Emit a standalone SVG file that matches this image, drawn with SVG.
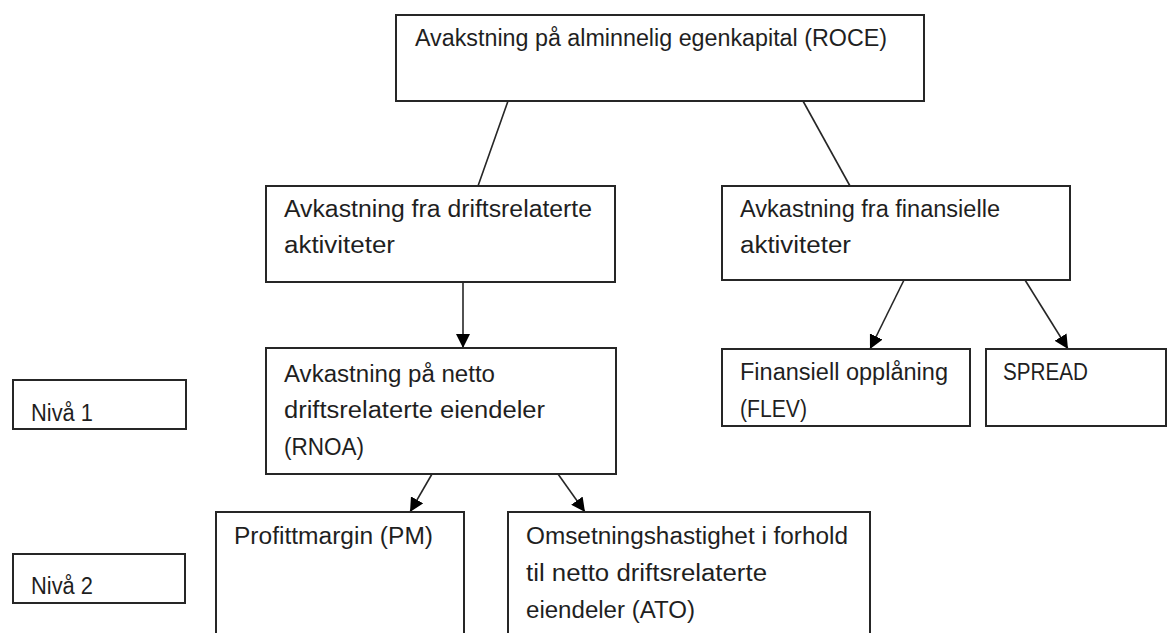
<svg xmlns="http://www.w3.org/2000/svg" width="1168" height="633" viewBox="0 0 1168 633">
<style>
.box{fill:#fff;stroke:#262626;stroke-width:2}
.t{font-family:"Liberation Sans",Arial,sans-serif;font-size:23.5px;fill:#1f1f1f}
.c{stroke:#262626;stroke-width:1.6;fill:none}
</style>
<defs>
<marker id="ahb" viewBox="0 0 12 12" refX="12" refY="6" markerWidth="14" markerHeight="14" markerUnits="userSpaceOnUse" orient="auto">
<path d="M0,0 L12,6 L0,12 z" fill="#000"/>
</marker>
</defs>
<rect width="1168" height="633" fill="#fff"/>
<g id="connectors">
<line class="c" x1="508" y1="101" x2="478" y2="186"/>
<line class="c" x1="803" y1="101" x2="850" y2="186"/>
<line class="c" x1="463" y1="282" x2="463" y2="348" marker-end="url(#ahb)"/>
<line class="c" x1="904" y1="280" x2="870" y2="349" marker-end="url(#ahb)"/>
<line class="c" x1="1025" y1="280" x2="1068" y2="349" marker-end="url(#ahb)"/>
<line class="c" x1="432" y1="474" x2="410" y2="512" marker-end="url(#ahb)"/>
<line class="c" x1="558" y1="474" x2="585" y2="512" marker-end="url(#ahb)"/>
</g>
<g id="roce">
<rect class="box" x="396" y="15" width="528" height="86"/>
<text class="t" x="415" y="46" textLength="472" lengthAdjust="spacingAndGlyphs">Avakstning på alminnelig egenkapital (ROCE)</text>
</g>
<g id="drift">
<rect class="box" x="266" y="186" width="349" height="96"/>
<text class="t" x="284" y="217" textLength="308" lengthAdjust="spacingAndGlyphs">Avkastning fra driftsrelaterte</text>
<text class="t" x="284" y="253" textLength="111" lengthAdjust="spacingAndGlyphs">aktiviteter</text>
</g>
<g id="finans">
<rect class="box" x="722" y="186" width="348" height="94"/>
<text class="t" x="740" y="217" textLength="260" lengthAdjust="spacingAndGlyphs">Avkastning fra finansielle</text>
<text class="t" x="740" y="253" textLength="111" lengthAdjust="spacingAndGlyphs">aktiviteter</text>
</g>
<g id="rnoa">
<rect class="box" x="266" y="348" width="350" height="126"/>
<text class="t" x="284" y="382" textLength="211" lengthAdjust="spacingAndGlyphs">Avkastning på netto</text>
<text class="t" x="284" y="418" textLength="261" lengthAdjust="spacingAndGlyphs">driftsrelaterte eiendeler</text>
<text class="t" x="284" y="455" textLength="80" lengthAdjust="spacingAndGlyphs">(RNOA)</text>
</g>
<g id="niva1">
<rect class="box" x="13" y="380" width="173" height="49"/>
<text class="t" x="31" y="421" textLength="62" lengthAdjust="spacingAndGlyphs">Nivå 1</text>
</g>
<g id="flev">
<rect class="box" x="722" y="349" width="248" height="77"/>
<text class="t" x="740" y="380" textLength="208" lengthAdjust="spacingAndGlyphs">Finansiell opplåning</text>
<text class="t" x="740" y="417" textLength="67" lengthAdjust="spacingAndGlyphs">(FLEV)</text>
</g>
<g id="spread">
<rect class="box" x="986" y="349" width="180" height="77"/>
<text class="t" x="1003" y="380" textLength="85" lengthAdjust="spacingAndGlyphs">SPREAD</text>
</g>
<g id="pm">
<rect class="box" x="216" y="512" width="248" height="140"/>
<text class="t" x="234" y="544" textLength="199" lengthAdjust="spacingAndGlyphs">Profittmargin (PM)</text>
</g>
<g id="ato">
<rect class="box" x="508" y="512" width="362" height="140"/>
<text class="t" x="526" y="544" textLength="322" lengthAdjust="spacingAndGlyphs">Omsetningshastighet i forhold</text>
<text class="t" x="526" y="581" textLength="241" lengthAdjust="spacingAndGlyphs">til netto driftsrelaterte</text>
<text class="t" x="526" y="618" textLength="169" lengthAdjust="spacingAndGlyphs">eiendeler (ATO)</text>
</g>
<g id="niva2">
<rect class="box" x="13" y="554" width="172" height="49"/>
<text class="t" x="31" y="594" textLength="62" lengthAdjust="spacingAndGlyphs">Nivå 2</text>
</g>
</svg>
